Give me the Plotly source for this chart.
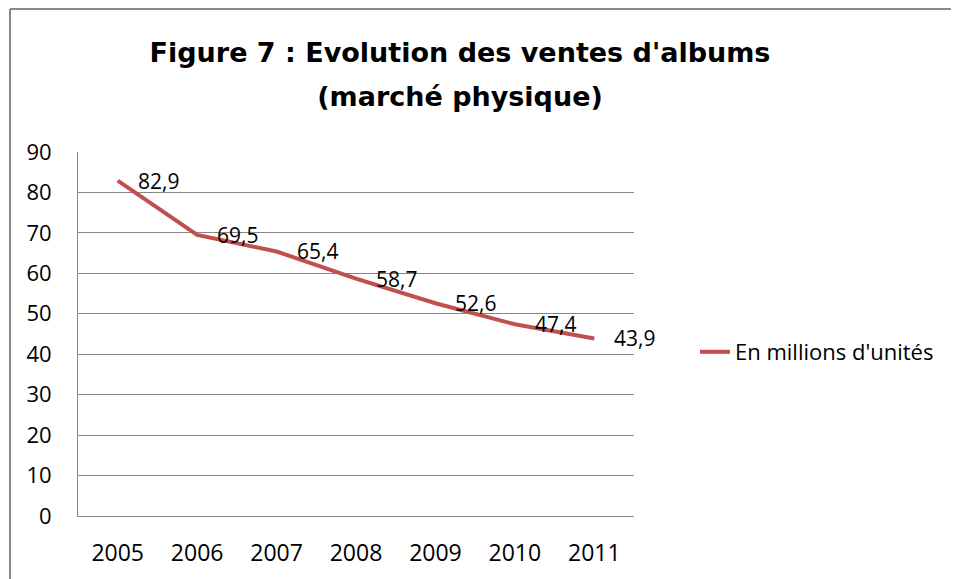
import plotly.graph_objects as go

years = ["2005", "2006", "2007", "2008", "2009", "2010", "2011"]
ventes = [82.9, 69.5, 65.4, 58.7, 52.6, 47.4, 43.9]
serie_nom = "En millions d'unités"
y_ticks = [0, 10, 20, 30, 40, 50, 60, 70, 80, 90]
titre_l1 = "Figure 7 : Evolution des ventes d'albums"
titre_l2 = "(marché physique)"

labels = [f"{v:.1f}".replace(".", ",") for v in ventes]

FONT = "Open Sans, Calibri, sans-serif"
TFONT = "DejaVu Sans, Open Sans, sans-serif"

# page body has an 8px margin; figure coordinates are shifted accordingly
W, H = 951, 571
L, R, T, B = 70, 325, 144, 63
pw = W - L - R
ph = H - T - B

fig = go.Figure()
fig.add_trace(go.Scatter(
    x=years, y=ventes, mode="lines", name=serie_nom,
    line=dict(color="#C0504D", width=4),
    cliponaxis=False,
))

annotations = [
    dict(x=i, y=v, text=t, xref="x", yref="y", showarrow=False,
         xanchor="left", yanchor="middle", xshift=18,
         font=dict(family=FONT, size=21, color="#000000"))
    for i, (v, t) in enumerate(zip(ventes, labels))
]

fig.update_layout(
    width=W, height=H,
    margin=dict(l=L, r=R, t=T, b=B),
    paper_bgcolor="white", plot_bgcolor="white",
    title=dict(
        text=(f"<span style='font-size:27px'><b>{titre_l1}</b></span><br>"
              f"<span style='font-size:27px'><b>{titre_l2}</b></span>"),
        x=452 / W, xanchor="center", y=1 - 54 / H, yanchor="middle",
        font=dict(family=TFONT, size=34, color="#000000"),
    ),
    showlegend=True,
    legend=dict(
        x=(687 - L) / pw, xanchor="left", y=(H - B - 344) / ph, yanchor="middle",
        font=dict(family=FONT, size=22, color="#000000"),
        bgcolor="rgba(0,0,0,0)",
    ),
    xaxis=dict(
        type="category", range=[-0.5, 6.5],
        showline=True, linecolor="#868686", linewidth=1,
        showgrid=False, ticks="",
        tickfont=dict(family=FONT, size=23, color="#000000"),
        ticklabelstandoff=16,
    ),
    yaxis=dict(
        range=[0, 90], tickvals=y_ticks,
        showline=True, linecolor="#868686", linewidth=1,
        showgrid=True, gridcolor="#868686", gridwidth=1,
        zeroline=False, ticks="",
        tickfont=dict(family=FONT, size=22, color="#000000"),
        ticklabelstandoff=21,
    ),
    annotations=annotations,
    shapes=[
        dict(type="line", xref="paper", yref="paper",
             x0=(2 - L) / pw, x1=(W + 20 - L) / pw,
             y0=(H - B - 1) / ph, y1=(H - B - 1) / ph,
             line=dict(color="#898989", width=2)),
        dict(type="line", xref="paper", yref="paper",
             x0=(2 - L) / pw, x1=(2 - L) / pw,
             y0=(H - B - 1) / ph, y1=-(B + 20) / ph,
             line=dict(color="#898989", width=2)),
    ],
)

fig.write_html("out.html")
